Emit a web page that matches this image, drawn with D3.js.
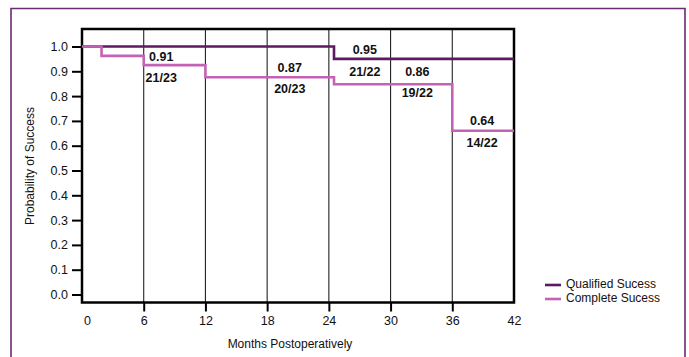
<!DOCTYPE html>
<html><head><meta charset="utf-8">
<script src="https://cdn.jsdelivr.net/npm/d3@7"></script>
<style>
body{margin:0;background:#fff;}
text{font-family:"Liberation Sans",Arial,sans-serif;}
.lbl{font-family:"Liberation Sans Narrow","Liberation Sans",Arial,sans-serif;font-weight:bold;font-size:12.5px;}
</style></head><body>
<script>
const xTicks = [0, 6, 12, 18, 24, 30, 36, 42];
const yTicks = [0.0, 0.1, 0.2, 0.3, 0.4, 0.5, 0.6, 0.7, 0.8, 0.9, 1.0];
// step curves: [month, probability]
const qualifiedSteps = [[0, 1.0], [24.5, 0.95], [42, 0.95]];
const completeSteps = [[0, 1.0], [1.9, 0.962], [6, 0.925], [12, 0.876], [24.5, 0.848], [36, 0.66], [42, 0.66]];
const seriesNames = ["Qualified Sucess", "Complete Sucess"];
const seriesColors = ["#5c1a62", "#c462b6"];
// annotations: [month, probability, text]
const annotValues = [[7.7, 0.955, "0.91"], [20.2, 0.91, "0.87"], [27.5, 0.985, "0.95"], [32.6, 0.895, "0.86"], [38.9, 0.695, "0.64"]];
const annotFractions = [[7.7, 0.87, "21/23"], [20.2, 0.825, "20/23"], [27.5, 0.895, "21/22"], [32.6, 0.81, "19/22"], [38.9, 0.61, "14/22"]];

const W = 689, H = 357;
const svg = d3.select("body").append("svg").attr("width", W).attr("height", H);

// outer border (open at bottom)
svg.append("path").attr("d", "M11,357 L11,8.5 L685,8.5 L685,357")
  .attr("fill", "none").attr("stroke", "#6b2a6e").attr("stroke-width", 1.6);

const x = d3.scaleLinear().domain([0, 42]).range([82, 514]);
const y = d3.scaleLinear().domain([0, 1]).range([294.5, 46.5]);
const plotTop = 29, plotBottom = 302.5;

// vertical grid lines
svg.append("g").selectAll("line").data(xTicks.slice(1, -1)).join("line")
  .attr("x1", d => x(d)).attr("x2", d => x(d)).attr("y1", plotTop).attr("y2", plotBottom)
  .attr("stroke", "#222").attr("stroke-width", 1.1);

// x axis
const xAxis = svg.append("g").attr("transform", `translate(0,${plotBottom})`)
  .call(d3.axisBottom(x).tickValues(xTicks).tickSize(9).tickPadding(5).tickFormat(d3.format("d")));
xAxis.select(".domain").remove();
xAxis.selectAll(".tick line").attr("stroke", "#000").attr("stroke-width", 2)
  .filter(d => d === 0 || d === 42).remove();
xAxis.selectAll(".tick text").attr("font-size", 12.5).attr("fill", "#111")
  .attr("font-family", "Liberation Sans, Arial, sans-serif")
  .attr("dx", d => d === 0 ? 5 : 0);

// y axis
const yAxis = svg.append("g").attr("transform", `translate(${x(0)},0)`)
  .call(d3.axisLeft(y).tickValues(yTicks).tickSize(10).tickPadding(4).tickFormat(d3.format(".1f")));
yAxis.select(".domain").remove();
yAxis.selectAll(".tick line").attr("stroke", "#000").attr("stroke-width", 2);
yAxis.selectAll(".tick text").attr("font-size", 12.5).attr("fill", "#111")
  .attr("font-family", "Liberation Sans, Arial, sans-serif");

// frame
svg.append("rect").attr("x", x(0)).attr("y", plotTop).attr("width", x(42) - x(0)).attr("height", plotBottom - plotTop)
  .attr("fill", "none").attr("stroke", "#000").attr("stroke-width", 2.5);

// step lines
const line = d3.line().x(d => x(d[0])).y(d => y(d[1])).curve(d3.curveStepAfter);
[qualifiedSteps, completeSteps].forEach((s, i) => {
  svg.append("path").datum(s).attr("d", line).attr("fill", "none")
    .attr("stroke", seriesColors[i]).attr("stroke-width", 2.6);
});

// annotations
svg.append("g").selectAll("text").data(annotValues.concat(annotFractions)).join("text")
  .attr("class", "lbl").attr("x", d => x(d[0])).attr("y", d => y(d[1]))
  .attr("text-anchor", "middle").attr("dominant-baseline", "middle").attr("fill", "#111")
  .text(d => d[2]);

// axis titles
svg.append("text").attr("x", 290).attr("y", 348).attr("text-anchor", "middle")
  .attr("font-size", 12).attr("fill", "#111").text("Months Postoperatively");
svg.append("text").attr("transform", "translate(34,166) rotate(-90)").attr("text-anchor", "middle")
  .attr("font-size", 12).attr("fill", "#111").text("Probability of Success");

// legend
const lg = svg.append("g").selectAll("g").data(seriesNames).join("g")
  .attr("transform", (d, i) => `translate(545,${285 + i * 14})`);
lg.append("line").attr("x1", 0).attr("x2", 16).attr("y1", 0).attr("y2", 0)
  .attr("stroke", (d, i) => seriesColors[i]).attr("stroke-width", 2.6);
lg.append("text").attr("x", 21).attr("y", 0).attr("dominant-baseline", "middle")
  .attr("font-size", 12).attr("fill", "#111").text(d => d);
</script>
</body></html>
